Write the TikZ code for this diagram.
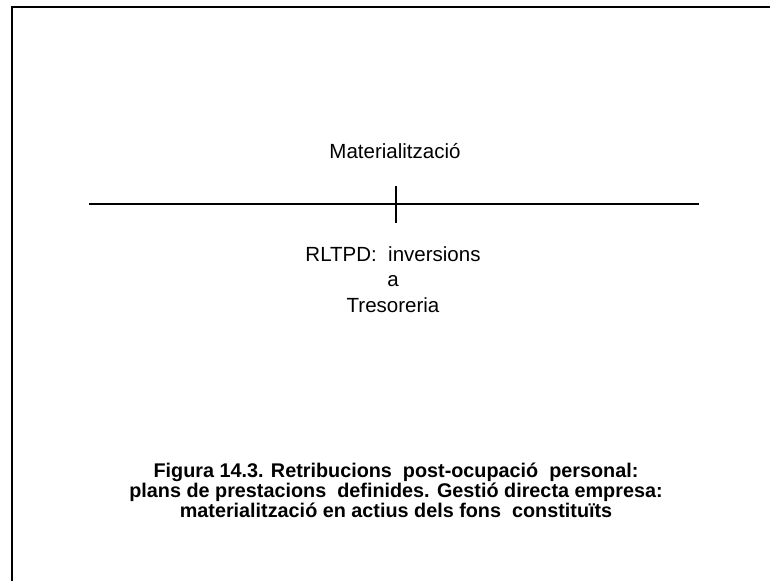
\documentclass[tikz,border=0pt]{standalone}
\usepackage{fontspec}
\setmainfont{Liberation Sans}
\tikzset{
 etiqueta/.style={inner sep=0pt,align=center,font=\fontsize{20.5}{25.5}\selectfont},
 peu/.style={inner sep=0pt,align=center,font=\fontsize{19.8}{20}\selectfont\bfseries},
 eix/.style={line width=2.4pt},
}

\begin{document}
\begin{tikzpicture}[x=1pt,y=-1pt]
        \useasboundingbox (0,0) rectangle (770,581);
        % marc
        \draw [line width=2.6pt] (12,581) -- (12,7) -- (770,7);

        % eix temporal
        \coordinate (esq) at (89,204);
        \coordinate (dre) at (699,204);
        \coordinate (dalt) at (396,186);
        \coordinate (baix) at (396,223);
        \draw [eix] (esq) -- (dre);
        \draw [eix] (dalt) -- (baix);

        \node [etiqueta,anchor=base] (materialitzacio) at (395,158) {Materialització};
        \node [etiqueta,anchor=north] (rltpd) at (393,246) {RLTPD:\ \ inversions\\a\\Tresoreria};

        \node [peu,anchor=north] (figura) at (396,463) {Figura 14.3. Retribucions\ \ post-ocupació\ \ personal:\\
            plans de prestacions\ \ definides. Gestió directa empresa:\\
            materialització en actius dels fons\ \ constituïts};
    \end{tikzpicture}
\end{document}
